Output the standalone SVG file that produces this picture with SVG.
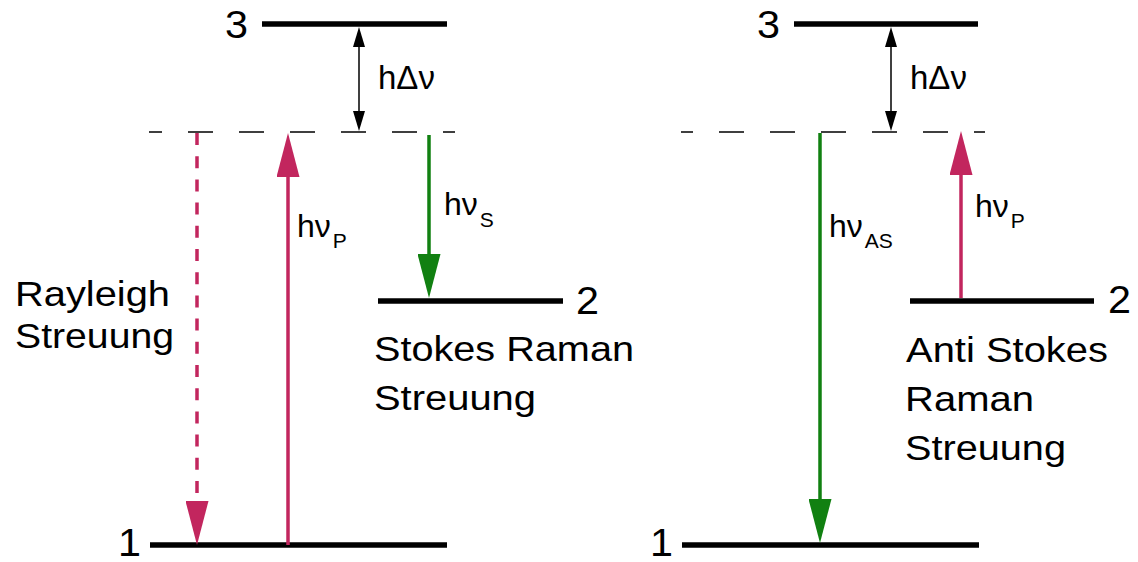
<svg xmlns="http://www.w3.org/2000/svg" width="1138" height="562" viewBox="0 0 1138 562">
<style>
text{font-family:"Liberation Sans",Arial,Helvetica,sans-serif;fill:#000}
.lbl{font-size:35px}
.dig{font-size:38px}
.hv{font-size:32px}
.hd{font-size:33px}
.sub{font-size:21px}
.level{stroke:#000;stroke-width:5.5;fill:none}
.virt{stroke:#000;stroke-width:1.5;fill:none;stroke-dasharray:25 26}
.pump{stroke:#C2265E;stroke-width:3.5;fill:none}
.emit{stroke:#118011;stroke-width:3.5;fill:none}
.gap{stroke:#000;stroke-width:1.5;fill:none}
</style>
<defs>
<marker id="hPink" markerUnits="userSpaceOnUse" markerWidth="44" markerHeight="23" refX="0" refY="11.5" orient="auto" viewBox="0 0 44 23"><path d="M0,0 L44,11.5 L0,23 z" fill="#C2265E"/></marker>
<marker id="hGreen" markerUnits="userSpaceOnUse" markerWidth="44" markerHeight="23" refX="0" refY="11.5" orient="auto" viewBox="0 0 44 23"><path d="M0,0 L44,11.5 L0,23 z" fill="#118011"/></marker>
<marker id="hBlack" markerUnits="userSpaceOnUse" markerWidth="20" markerHeight="12" refX="0" refY="6" orient="auto-start-reverse" viewBox="0 0 20 12"><path d="M0,0 L20,6 L0,12 z" fill="#000"/></marker>
</defs>

<g id="left-level3"><line class="level" x1="262" y1="24" x2="447" y2="24"/><text class="dig" x="225" y="38" textLength="23" lengthAdjust="spacingAndGlyphs">3</text></g>
<g id="left-virtual"><line class="virt" x1="149" y1="132" x2="455" y2="132" stroke-dashoffset="12"/></g>
<g id="left-level2"><line class="level" x1="378" y1="301" x2="563" y2="301"/><text class="dig" x="576" y="314" textLength="23" lengthAdjust="spacingAndGlyphs">2</text></g>
<g id="left-level1"><line class="level" x1="150" y1="545" x2="447" y2="545"/><text class="dig" x="118" y="556" textLength="23" lengthAdjust="spacingAndGlyphs">1</text></g>

<g id="right-level3"><line class="level" x1="794" y1="24" x2="978" y2="24"/><text class="dig" x="757" y="38" textLength="23" lengthAdjust="spacingAndGlyphs">3</text></g>
<g id="right-virtual"><line class="virt" x1="681" y1="132" x2="985" y2="132" stroke-dashoffset="13"/></g>
<g id="right-level2"><line class="level" x1="910" y1="301" x2="1094" y2="301"/><text class="dig" x="1108" y="313" textLength="23" lengthAdjust="spacingAndGlyphs">2</text></g>
<g id="right-level1"><line class="level" x1="682" y1="545" x2="979" y2="545"/><text class="dig" x="650" y="556" textLength="23" lengthAdjust="spacingAndGlyphs">1</text></g>

<g id="connectors">
<line class="gap" x1="359" y1="47" x2="359" y2="111" marker-start="url(#hBlack)" marker-end="url(#hBlack)"/>
<line class="gap" x1="891" y1="47" x2="891" y2="111" marker-start="url(#hBlack)" marker-end="url(#hBlack)"/>
<line class="pump" x1="197" y1="133" x2="197" y2="501" stroke-dasharray="12 11.2" marker-end="url(#hPink)"/>
<line class="pump" x1="288" y1="545" x2="288" y2="177" marker-end="url(#hPink)"/>
<line class="emit" x1="429" y1="135" x2="429" y2="254" marker-end="url(#hGreen)"/>
<line class="emit" x1="820" y1="133" x2="820" y2="499" marker-end="url(#hGreen)"/>
<line class="pump" x1="961" y1="298" x2="961" y2="175" marker-end="url(#hPink)"/>
</g>

<g id="labels">
<text class="hd" x="378" y="89">hΔν</text>
<text class="hd" x="910" y="89">hΔν</text>
<text class="hv" x="297" y="237">hν<tspan class="sub" dx="2" y="248">P</tspan></text>
<text class="hv" x="444" y="215">hν<tspan class="sub" dx="2" y="227">S</tspan></text>
<text class="hv" x="829" y="237">hν<tspan class="sub" dx="2" y="248">AS</tspan></text>
<text class="hv" x="975" y="217">hν<tspan class="sub" dx="2" y="228">P</tspan></text>
<text class="lbl" x="15" y="306" textLength="155" lengthAdjust="spacingAndGlyphs">Rayleigh</text>
<text class="lbl" x="15" y="348" textLength="159" lengthAdjust="spacingAndGlyphs">Streuung</text>
<text class="lbl" x="374" y="361" textLength="260" lengthAdjust="spacingAndGlyphs">Stokes Raman</text>
<text class="lbl" x="374" y="410" textLength="162" lengthAdjust="spacingAndGlyphs">Streuung</text>
<text class="lbl" x="906" y="362" textLength="202" lengthAdjust="spacingAndGlyphs">Anti Stokes</text>
<text class="lbl" x="905" y="411" textLength="129" lengthAdjust="spacingAndGlyphs">Raman</text>
<text class="lbl" x="905" y="460" textLength="161" lengthAdjust="spacingAndGlyphs">Streuung</text>
</g>
</svg>
